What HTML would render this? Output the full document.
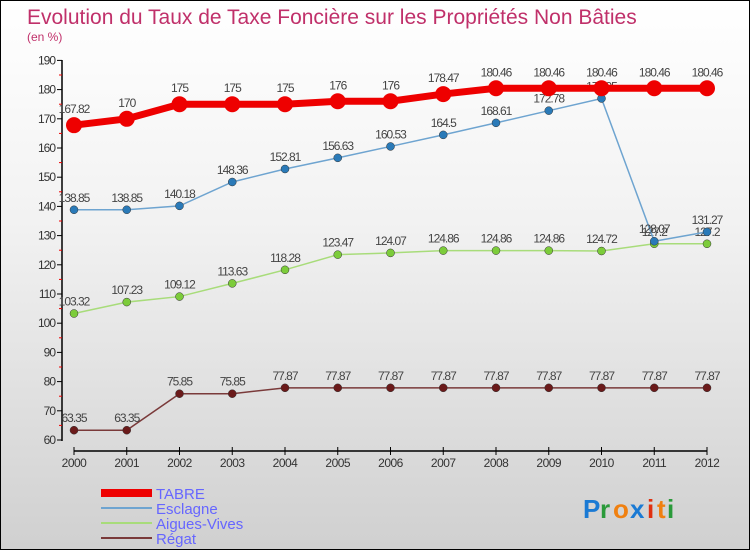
<!DOCTYPE html>
<html><head><meta charset="utf-8"><style>
body{margin:0}
#c{width:750px;height:550px;position:relative;box-sizing:border-box;border:1px solid #000;background:linear-gradient(#fff 0%,#f2f2f2 40%,#d0d0d0 100%);font-family:"Liberation Sans",sans-serif;overflow:hidden}
</style></head><body>
<div id="c">
<svg id="s" width="750" height="550" style="position:absolute;left:0;top:0"></svg>
</div>
<script>
const years=["2000","2001","2002","2003","2004","2005","2006","2007","2008","2009","2010","2011","2012"];
const tabre=[167.82,170,175,175,175,176,176,178.47,180.46,180.46,180.46,180.46,180.46];
const esclagne=[138.85,138.85,140.18,148.36,152.81,156.63,160.53,164.5,168.61,172.78,176.95,128.07,131.27];
const aigues=[103.32,107.23,109.12,113.63,118.28,123.47,124.07,124.86,124.86,124.86,124.72,127.2,127.2];
const regat=[63.35,63.35,75.85,75.85,77.87,77.87,77.87,77.87,77.87,77.87,77.87,77.87,77.87];
const yTicks=[60,70,80,90,100,110,120,130,140,150,160,170,180,190];
const names=["TABRE","Esclagne","Aigues-Vives","Régat"];
const s=document.getElementById('s');const NS="http://www.w3.org/2000/svg";
const X=i=>73+i*52.75, Y=v=>439-(v-60)*2.92;
function mk(t,a,name,txt){const e=document.createElementNS(NS,t);for(const k in a)e.setAttribute(k,a[k]);


if(txt!==undefined)e.textContent=txt;s.appendChild(e);return e;}
mk('text',{x:26,y:23,'font-size':21,fill:'#c0306a'},'chart-title','Evolution du Taux de Taxe Foncière sur les Propriétés Non Bâties');
mk('text',{x:26,y:40,'font-size':12,fill:'#c0306a'},'y-unit-label','(en %)');
mk('line',{x1:61,y1:59,x2:61,y2:440,stroke:'#000','stroke-width':1.5},'y-axis');
mk('line',{x1:73,y1:450,x2:706,y2:450,stroke:'#000','stroke-width':1.5},'x-axis');
yTicks.forEach(v=>{mk('line',{x1:56,y1:Y(v),x2:61,y2:Y(v),stroke:'#000'},'y-tick');
mk('text',{x:54,y:Y(v)+4,'font-size':12,fill:'#333','text-anchor':'end','letter-spacing':'-1'},'y-tick-label',v);
if(v<190)mk('line',{x1:58,y1:Y(v+5),x2:61,y2:Y(v+5),stroke:'#e00'},'y-minor-tick');});
years.forEach((y,i)=>{mk('line',{x1:X(i),y1:446,x2:X(i),y2:454,stroke:'#000'},'x-tick');
mk('text',{x:X(i),y:466,'font-size':12,fill:'#333','text-anchor':'middle','letter-spacing':'-0.5'},'x-tick-label',y);});
const series=[[regat,'#6b1a1a','#7a3a3a',1.5,4,'regat'],[aigues,'#7ccc3a','#a8dc7a',1.5,4,'aigues-vives'],[esclagne,'#2a7ab8','#6ea4d0',1.5,4,'esclagne'],[tabre,'#e00','#e00',7,8,'tabre']];
series.forEach(([d,dc,lc,w,r,n])=>{
mk('polyline',{points:d.map((v,i)=>X(i)+','+Y(v)).join(' '),fill:'none',stroke:lc,'stroke-width':w},n+'-line');
d.forEach((v,i)=>{mk('circle',{cx:X(i),cy:Y(v),r:r,fill:dc,stroke:n=='tabre'?'none':'#333','stroke-width':0.5},n+'-point');
mk('text',{x:X(i),y:Y(v)-(n=='tabre'?12:8),'font-size':12,fill:'#444','text-anchor':'middle','letter-spacing':'-1'},n+'-value-label',v);});});
const lg=[['#e00',8],['#6ea4d0',2],['#a8dc7a',2],['#7a3a3a',2]];
lg.forEach(([c,w],i)=>{const y=492+i*15;
mk('line',{x1:100,y1:y,x2:151,y2:y,stroke:c,'stroke-width':w},'legend-swatch');
mk('text',{x:155,y:y+6,'font-size':15,fill:'#6666ff'},'legend-entry',names[i]);});
const logo=[['P','#1a7ad4'],['r','#2a9a3a'],['o','#f08010'],['x','#1a7ad4'],['i','#e03010'],['t','#f08010'],['i','#2a9a3a']];
let lx=582;logo.forEach(([ch,c])=>{mk('text',{x:lx,y:517,'font-size':26,'font-weight':'bold',fill:c},'logo-letter',ch);lx+=ch=='i'||ch=='t'?10:ch=='r'?13:17;});
</script>
</body></html>
